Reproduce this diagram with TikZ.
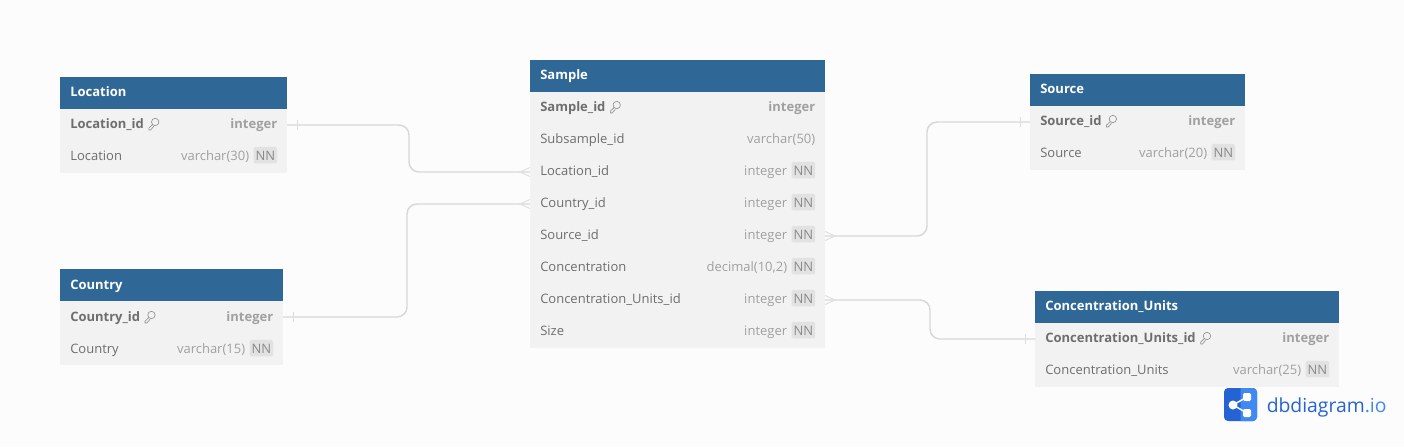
\documentclass[tikz,border=0pt]{standalone}
\usepackage{fontspec}
\setmainfont{Open Sans}
\definecolor{bgc}{HTML}{FCFCFC}
\definecolor{headc}{HTML}{2F6896}
\definecolor{rowc}{HTML}{F2F2F2}
\definecolor{namec}{HTML}{6E6E6E}
\definecolor{typec}{HTML}{A0A0A0}
\definecolor{nnbg}{HTML}{E2E2E2}
\definecolor{nnc}{HTML}{8A8A8A}
\definecolor{linec}{HTML}{D8D8D8}
\definecolor{markc}{HTML}{DEDEDE}
\definecolor{keyc}{HTML}{8A8A8A}
\definecolor{logod}{HTML}{2563D4}
\definecolor{logol}{HTML}{4089F2}
\newcommand{\erbase}{19}
\tikzset{
  headbox/.style={fill=headc,inner sep=0pt,outer sep=0pt,anchor=north west,minimum height=24pt},
  rowbox/.style={fill=rowc,inner sep=0pt,outer sep=0pt,anchor=north west,minimum height=24pt},
  headtxt/.style={text=white,font=\fontsize{9.75pt}{12pt}\selectfont\bfseries,anchor=base west,inner sep=0pt},
  nametxt/.style={text=namec,font=\fontsize{9.75pt}{12pt}\selectfont,anchor=base west,inner sep=0pt},
  pktxt/.style={text=namec,font=\fontsize{9.75pt}{12pt}\selectfont\bfseries,anchor=base west,inner sep=0pt},
  typetxt/.style={text=typec,font=\fontsize{9.75pt}{12pt}\selectfont,anchor=base east,inner sep=0pt},
  pktype/.style={text=typec,font=\fontsize{9.75pt}{12pt}\selectfont\bfseries,anchor=base east,inner sep=0pt},
  nnbox/.style={fill=nnbg,rounded corners=1.2pt,text=nnc,font=\fontsize{9.75pt}{12pt}\selectfont,anchor=base east,inner xsep=1.5pt,inner ysep=0pt,text height=9.8pt,text depth=2.6pt},
  rel/.style={draw=linec,line width=1.1pt,rounded corners=7.5pt},
  relmark/.style={draw=markc,line width=0.7pt},
  keyline/.style={draw=keyc,line width=0.45pt,line cap=round,line join=round},
  pics/keyicon/.style={code={
    \draw[keyline,fill=none] (11,-6) circle[radius=3.7];
    \draw[keyline] (8.3,-3.4) -- (4.6,0.2) -- (4.6,2) -- (6.4,2) -- (9.5,-1.6);
  }}
}
% head: id, x, y, w, title
\newcommand{\erhead}[5]{%
  \node[headbox,minimum width=#4*0.75pt] (#1) at (#2,#3) {};
  \node[headtxt] (#1-t) at (#2+10,#3+\erbase) {#5};
}
% primary key row: id, x, y, w, name, type
\newcommand{\erpk}[6]{%
  \node[rowbox,minimum width=#4*0.75pt] (#1) at (#2,#3) {};
  \node[pktxt] (#1-n) at (#2+10,#3+\erbase) {#5};
  \pic at (#1-n.base east) {keyicon};
  \node[pktype] (#1-y) at (#2+#4-9.5,#3+\erbase) {#6};
}
% plain row, no NN
\newcommand{\erplain}[6]{%
  \node[rowbox,minimum width=#4*0.75pt] (#1) at (#2,#3) {};
  \node[nametxt] (#1-n) at (#2+10,#3+\erbase) {#5};
  \node[typetxt] (#1-y) at (#2+#4-9.5,#3+\erbase) {#6};
}
% NN row
\newcommand{\errow}[6]{%
  \node[rowbox,minimum width=#4*0.75pt] (#1) at (#2,#3) {};
  \node[nametxt] (#1-n) at (#2+10,#3+\erbase) {#5};
  \node[nnbox] (#1-k) at (#2+#4-9.5,#3+\erbase) {NN};
  \node[typetxt] (#1-y) at ([xshift=-3pt]#1-k.west |- #2,#3+\erbase) {#6};
}
\begin{document}
\begin{tikzpicture}[x=0.75pt,y=-0.75pt]
\useasboundingbox (0,0) rectangle (1404,447);
\fill[bgc] (0,0) rectangle (1404,447);

% Location
\erhead{loc}{60}{77}{227}{Location}
\erpk{locid}{60}{109}{227}{Location\_id}{integer}
\errow{locname}{60}{141}{227}{Location}{varchar(30)}

% Country
\renewcommand{\erbase}{20}
\erhead{cty}{60}{269}{223}{Country}
\erpk{ctyid}{60}{301}{223}{Country\_id}{integer}
\errow{ctyname}{60}{333}{223}{Country}{varchar(15)}
\renewcommand{\erbase}{19}

% Sample
\erhead{smp}{530}{60}{295}{Sample}
\erpk{smpid}{530}{92}{295}{Sample\_id}{integer}
\erplain{smpsub}{530}{124}{295}{Subsample\_id}{varchar(50)}
\errow{smploc}{530}{156}{295}{Location\_id}{integer}
\errow{smpcty}{530}{188}{295}{Country\_id}{integer}
\errow{smpsrc}{530}{220}{295}{Source\_id}{integer}
\errow{smpcon}{530}{252}{295}{Concentration}{decimal(10,2)}
\errow{smpunit}{530}{284}{295}{Concentration\_Units\_id}{integer}
\errow{smpsize}{530}{316}{295}{Size}{integer}

% Source
\erhead{src}{1030}{74}{215}{Source}
\erpk{srcid}{1030}{106}{215}{Source\_id}{integer}
\errow{srcname}{1030}{138}{215}{Source}{varchar(20)}

% Concentration_Units
\erhead{unit}{1035}{291}{304}{Concentration\_Units}
\erpk{unitid}{1035}{323}{304}{Concentration\_Units\_id}{integer}
\errow{unitname}{1035}{355}{304}{Concentration\_Units}{varchar(25)}

% connectors
\coordinate (m1) at (409,150);
\coordinate (m2) at (407,260);
\coordinate (m3) at (927,180);
\coordinate (m4) at (930,320);
\draw[rel] (locid.east) -| (m1) |- (smploc.west);
\draw[rel] (ctyid.east) -| (m2) |- (smpcty.west);
\draw[rel] (smpsrc.east) -| (m3) |- (srcid.west);
\draw[rel] (smpunit.east) -| (m4) |- (unitid.west);

% one-side ticks
\draw[relmark] ([xshift=7.5pt,yshift=3.75pt]locid.east) -- ++(0,10);
\draw[relmark] ([xshift=7.5pt,yshift=3.75pt]ctyid.east) -- ++(0,10);
\draw[relmark] ([xshift=-7.5pt,yshift=3.75pt]srcid.west) -- ++(0,10);
\draw[relmark] ([xshift=-7.5pt,yshift=3.75pt]unitid.west) -- ++(0,10);

% many-side crow's feet
\draw[relmark] ([yshift=3.4pt]smploc.west) -- ([xshift=-7.5pt]smploc.west) -- ([yshift=-3.4pt]smploc.west);
\draw[relmark] ([yshift=3.4pt]smpcty.west) -- ([xshift=-7.5pt]smpcty.west) -- ([yshift=-3.4pt]smpcty.west);
\draw[relmark] ([yshift=3.4pt]smpsrc.east) -- ([xshift=7.5pt]smpsrc.east) -- ([yshift=-3.4pt]smpsrc.east);
\draw[relmark] ([yshift=3.4pt]smpunit.east) -- ([xshift=7.5pt]smpunit.east) -- ([yshift=-3.4pt]smpunit.east);

% logo
\node[fill=logod,rounded corners=3pt,minimum width=24.75pt,minimum height=24.75pt,inner sep=0pt,outer sep=0pt] (logo) at (1240.5,404.5) {};
\begin{scope}
  \clip (1240.5,380) rectangle (1260,425);
  \fill[logol,rounded corners=3pt] (1224,388) rectangle (1257,421);
\end{scope}
\draw[white,line width=1.1pt] (1233,405) -- (1247,397) (1233,405) -- (1247,413);
\fill[white] (1233,405) circle[radius=4.5];
\fill[white,rounded corners=1pt] (1243,393) rectangle (1251,401);
\fill[white,rounded corners=1pt] (1243,409) rectangle (1251,417);
\node[anchor=base west,inner sep=0pt,font=\fontsize{14.5pt}{18pt}\selectfont,text=logod] (logotxt) at (1266.5,412) {dbdiagram\textcolor{logol}{.io}};
\end{tikzpicture}
\end{document}
